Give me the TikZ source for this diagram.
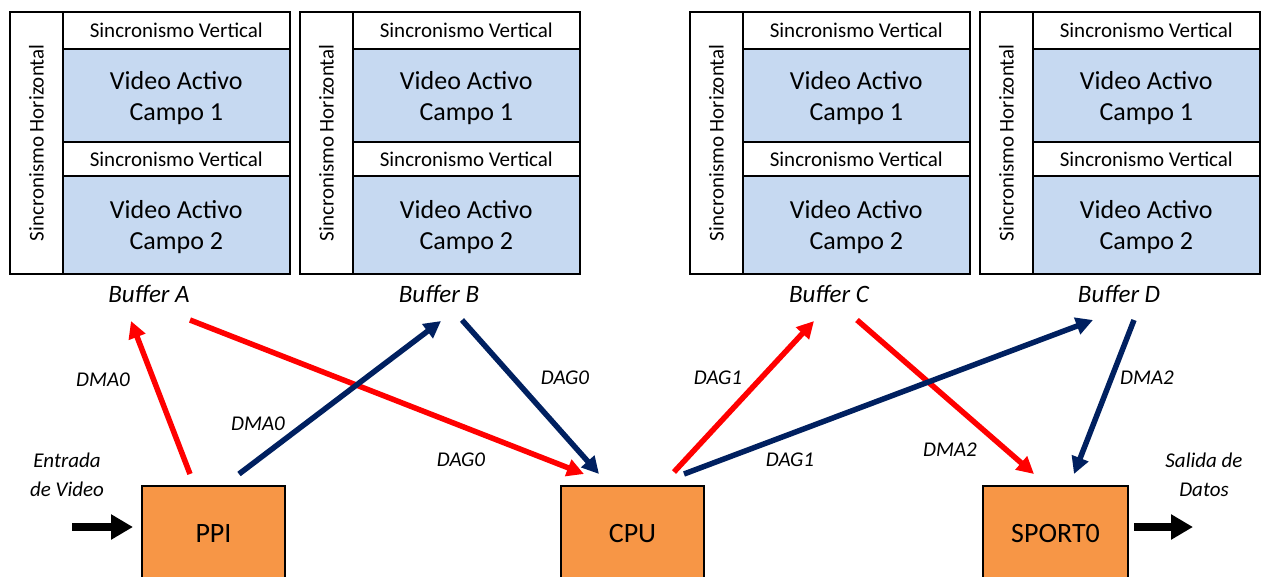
\documentclass[tikz,border=0pt]{standalone}
\usepackage{fontspec}
\setmainfont{Carlito}
\usetikzlibrary{arrows.meta}

\definecolor{fieldblue}{HTML}{C6D9F1}
\definecolor{unitorange}{HTML}{F79646}
\definecolor{flowred}{HTML}{FF0000}
\definecolor{flownavy}{HTML}{002060}

\tikzset{
  cell/.style={draw, line width=1.6pt, anchor=north west, inner sep=0pt, align=center},
  hsync/.style={cell, minimum width=53pt, minimum height=262pt},
  synctext/.style={font=\fontsize{21}{25}\selectfont},
  vsync/.style={cell, synctext, minimum width=227pt},
  field/.style={cell, fill=fieldblue, minimum width=227pt},
  fieldtext/.style={align=center, inner sep=0pt, font=\fontsize{26}{31}\selectfont},
  unit/.style={draw, line width=2pt, fill=unitorange, minimum width=143pt, minimum height=96pt,
    anchor=north west, inner sep=0pt, font=\fontsize{28}{32}\selectfont},
  buflabel/.style={font=\fontsize{25}{30}\selectfont\itshape},
  flowlabel/.style={font=\fontsize{21}{29}\selectfont\itshape, align=center},
  flow/.style={line width=5.5pt, -{Triangle[length=17pt,width=17pt]}},
  redflow/.style={flow, flowred},
  navyflow/.style={flow, flownavy},
  io/.style={line width=8pt, -{Triangle[length=22pt,width=24pt]}},
}

% One frame buffer: horizontal sync column, two vertical-sync bands and two active fields
\newcommand\videobuffer[3]{%
  \node[hsync] (#1h) at (#2,11) {};
  \node[synctext, rotate=90] (#1ht) at (#1h.center) {Sincronismo Horizontal};
  \node[vsync, minimum height=37pt] (#1v1) at (#2+53,11) {Sincronismo Vertical};
  \node[field, minimum height=93pt] (#1f1) at (#2+53,48) {};
  \node[fieldtext] (#1t1) at ([yshift=-3pt]#1f1.center) {Video Activo\\Campo 1};
  \node[vsync, minimum height=34pt] (#1v2) at (#2+53,141) {Sincronismo Vertical};
  \node[field, minimum height=98pt] (#1f2) at (#2+53,175) {};
  \node[fieldtext] (#1t2) at ([yshift=-2pt]#1f2.center) {Video Activo\\Campo 2};
  \node[buflabel] (#1lab) at (#2+140,294) {Buffer #3};
}

\begin{document}
\begin{tikzpicture}[x=1pt, y=-1pt]
  \useasboundingbox (0,0) rectangle (1261,576);

  % frame buffers
  \videobuffer{bA}{9}{A}
  \videobuffer{bB}{299}{B}
  \videobuffer{bC}{689}{C}
  \videobuffer{bD}{979}{D}

  % processing units
  \node[unit] (ppi) at (141,485) {PPI};
  \node[unit] (cpu) at (560,485) {CPU};
  \node[unit, minimum width=145pt] (sport) at (982,485) {SPORT0};

  % end points of the transfer arrows
  \coordinate (ppiR) at (190,474);
  \coordinate (ppiB) at (239,474);
  \coordinate (bAin) at (131,321);
  \coordinate (bAout) at (190,320);
  \coordinate (bBin) at (441,321);
  \coordinate (bBout) at (462,320);
  \coordinate (cpuInR) at (584,474);
  \coordinate (cpuInB) at (599,474);
  \coordinate (cpuOutR) at (674,472);
  \coordinate (cpuOutB) at (684,474);
  \coordinate (bCin) at (814,321);
  \coordinate (bCout) at (857,320);
  \coordinate (bDin) at (1093,320);
  \coordinate (bDout) at (1134,320);
  \coordinate (spInR) at (1034,474);
  \coordinate (spInB) at (1074,474);
  \coordinate (vin) at (72,527);
  \coordinate (ppiIn) at (133,527);
  \coordinate (spOut) at (1134,527);
  \coordinate (vout) at (1193,527);

  % red transfers
  \draw[redflow] (ppiR) -- (bAin);
  \draw[redflow] (bAout) -- (cpuInR);
  \draw[redflow] (cpuOutR) -- (bCin);
  \draw[redflow] (bCout) -- (spInR);

  % navy transfers
  \draw[navyflow] (ppiB) -- (bBin);
  \draw[navyflow] (bBout) -- (cpuInB);
  \draw[navyflow] (cpuOutB) -- (bDin);
  \draw[navyflow] (bDout) -- (spInB);

  % transfer labels
  \node[flowlabel] (l1) at (103,380) {DMA0};
  \node[flowlabel] (l2) at (258,424) {DMA0};
  \node[flowlabel] (l3) at (461,460) {DAG0};
  \node[flowlabel] (l4) at (565,378) {DAG0};
  \node[flowlabel] (l5) at (718,378) {DAG1};
  \node[flowlabel] (l6) at (790,460) {DAG1};
  \node[flowlabel] (l7) at (950,450) {DMA2};
  \node[flowlabel] (l8) at (1147,378) {DMA2};

  % video in and data out
  \draw[io] (vin) -- (ppiIn);
  \draw[io] (spOut) -- (vout);
  \node[flowlabel] (inlab) at (67,475) {Entrada\\de Video};
  \node[flowlabel] (outlab) at (1204,475) {Salida de\\Datos};
\end{tikzpicture}
\end{document}
